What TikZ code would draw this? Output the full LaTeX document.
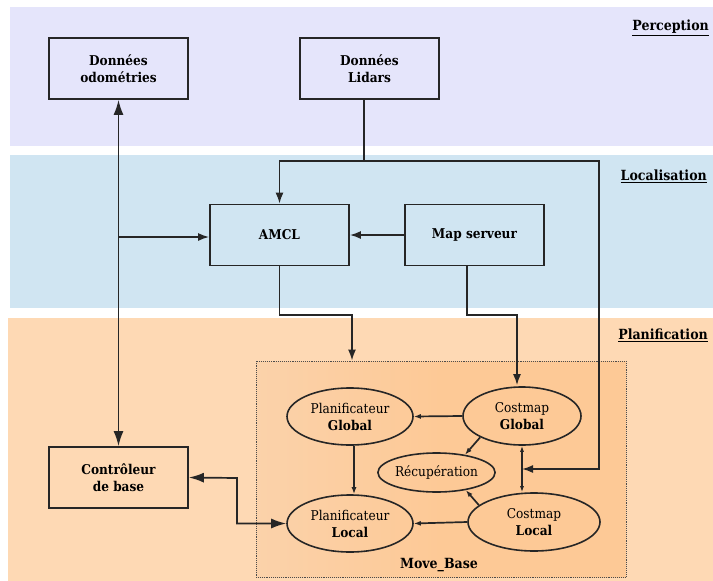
\documentclass[tikz,border=0pt]{standalone}
\usepackage{fontspec}
\setmainfont{DejaVu Serif Condensed}
\usetikzlibrary{shapes.geometric,arrows.meta}
\definecolor{percol}{HTML}{E5E5FB}
\definecolor{loccol}{HTML}{D0E5F2}
\definecolor{placol}{HTML}{FED9B4}
\definecolor{mbcol}{HTML}{FDC996}
\definecolor{mbcolL}{HTML}{FBD2AA}
\definecolor{linecol}{HTML}{262626}
\tikzset{
  boxnode/.style={draw=linecol, line width=1.7pt, minimum width=139pt, minimum height=61pt, align=center, font=\bfseries\fontsize{13.5}{17}\selectfont, inner sep=0pt},
  ellnode/.style={draw=linecol, line width=1.6pt, ellipse, inner sep=0pt, align=center, font=\fontsize{13.5}{17}\selectfont},
  conn/.style={draw=linecol, line width=1.7pt},
  bigtip/.style={-{Latex[length=11pt,width=8pt]}},
  bigtips/.style={{Latex[length=15pt,width=10pt]}-{Latex[length=15pt,width=10pt]}},
  smalltip/.style={-{Latex[length=7pt,width=5pt]}},
  sectlabel/.style={anchor=east, font=\bfseries\fontsize{14}{17}\selectfont, inner sep=0pt}
}
\begin{document}
\begin{tikzpicture}[x=1pt,y=-1pt]
\useasboundingbox (0,0) rectangle (713,581);
% bands
\fill[percol] (10,7) rectangle (713,146);
\fill[loccol] (10,155) rectangle (713,308);
\fill[placol] (8,318) rectangle (713,581);
\node[sectlabel] (lperc) at (709,28) {\underline{Perception}};
\node[sectlabel] (lloc) at (707,176) {\underline{Localisation}};
\node[sectlabel] (lplan) at (708,335) {\underline{Planification}};
% move base
\shade[left color=mbcolL, right color=mbcol, middle color=mbcol] (256,361) rectangle (626,577);
\node[draw=gray!60!black, densely dotted, line width=0.9pt, minimum width=370pt, minimum height=216pt, inner sep=0pt] (mb) at (441,469) {};
\node[font=\bfseries\fontsize{14}{17}\selectfont] (mblabel) at (439,565) {Move\_Base};
% boxes
\node[boxnode] (odo) at (118.5,68.5) {Données\\odométries};
\node[boxnode] (lidar) at (369.5,68.5) {Données\\Lidars};
\node[boxnode] (amcl) at (279.5,235) {AMCL};
\node[boxnode] (map) at (474.5,235) {Map serveur};
\node[boxnode] (ctrl) at (118.5,477.5) {Contrôleur\\de base};
% ellipses
\node[ellnode, minimum width=126pt, minimum height=57pt] (pg) at (350,416.5) {Planificateur\\\textbf{Global}};
\node[ellnode, minimum width=126pt, minimum height=57pt] (pl) at (350,523.5) {Planificateur\\\textbf{Local}};
\node[ellnode, minimum width=118pt, minimum height=58pt] (cg) at (522,416) {Costmap\\\textbf{Global}};
\node[ellnode, minimum width=132pt, minimum height=58pt] (cl) at (534,522) {Costmap\\\textbf{Local}};
\node[ellnode, minimum width=115pt, minimum height=39pt] (rec) at (436.5,472.5) {Récupération};
% connectors
\draw[conn, bigtips] (odo.south) -- (ctrl.north);
\coordinate (j1) at (118.5,237);
\draw[conn, bigtip] (j1) -- (amcl.west|-j1);
\coordinate (lx) at (364,161);
\coordinate (rr) at (599,469);
\draw[conn, bigtip] (lidar.south-|lx) -- (lx) -| (amcl.north);
\draw[conn, bigtip] (lx) -| (rr) -- (cg.south|-rr);
\draw[conn, bigtip] (map.west) -- (amcl.east);
\coordinate (a2) at (352,315);
\draw[conn, bigtip] (amcl.south) |- (a2) -- (a2|-mb.north);
\coordinate (m2) at (517,315);
\draw[conn, bigtip] ([xshift=-7.5pt]map.south) |- (m2) -- ([yshift=1pt]m2|-cg.north);
\draw[conn, smalltip] (cg.west) -- (pg.east);
\draw[conn, smalltip] ([xshift=4pt]pg.south) -- ([xshift=4pt]pl.north);
\draw[conn, smalltip] (cl.west) -- (pl.east);
\draw[conn, {Latex[length=6pt,width=4pt]}-{Latex[length=6pt,width=4pt]}] (cg.south) -- (cg.south|-cl.north);
\draw[conn, smalltip] (cg.207) -- (rec.32);
\draw[conn, smalltip] (cl.163) -- (rec.-31);
\coordinate (c1) at (237,478);
\draw[conn, bigtips] (ctrl.east) -- (c1) |- (pl.west);
\end{tikzpicture}
\end{document}
